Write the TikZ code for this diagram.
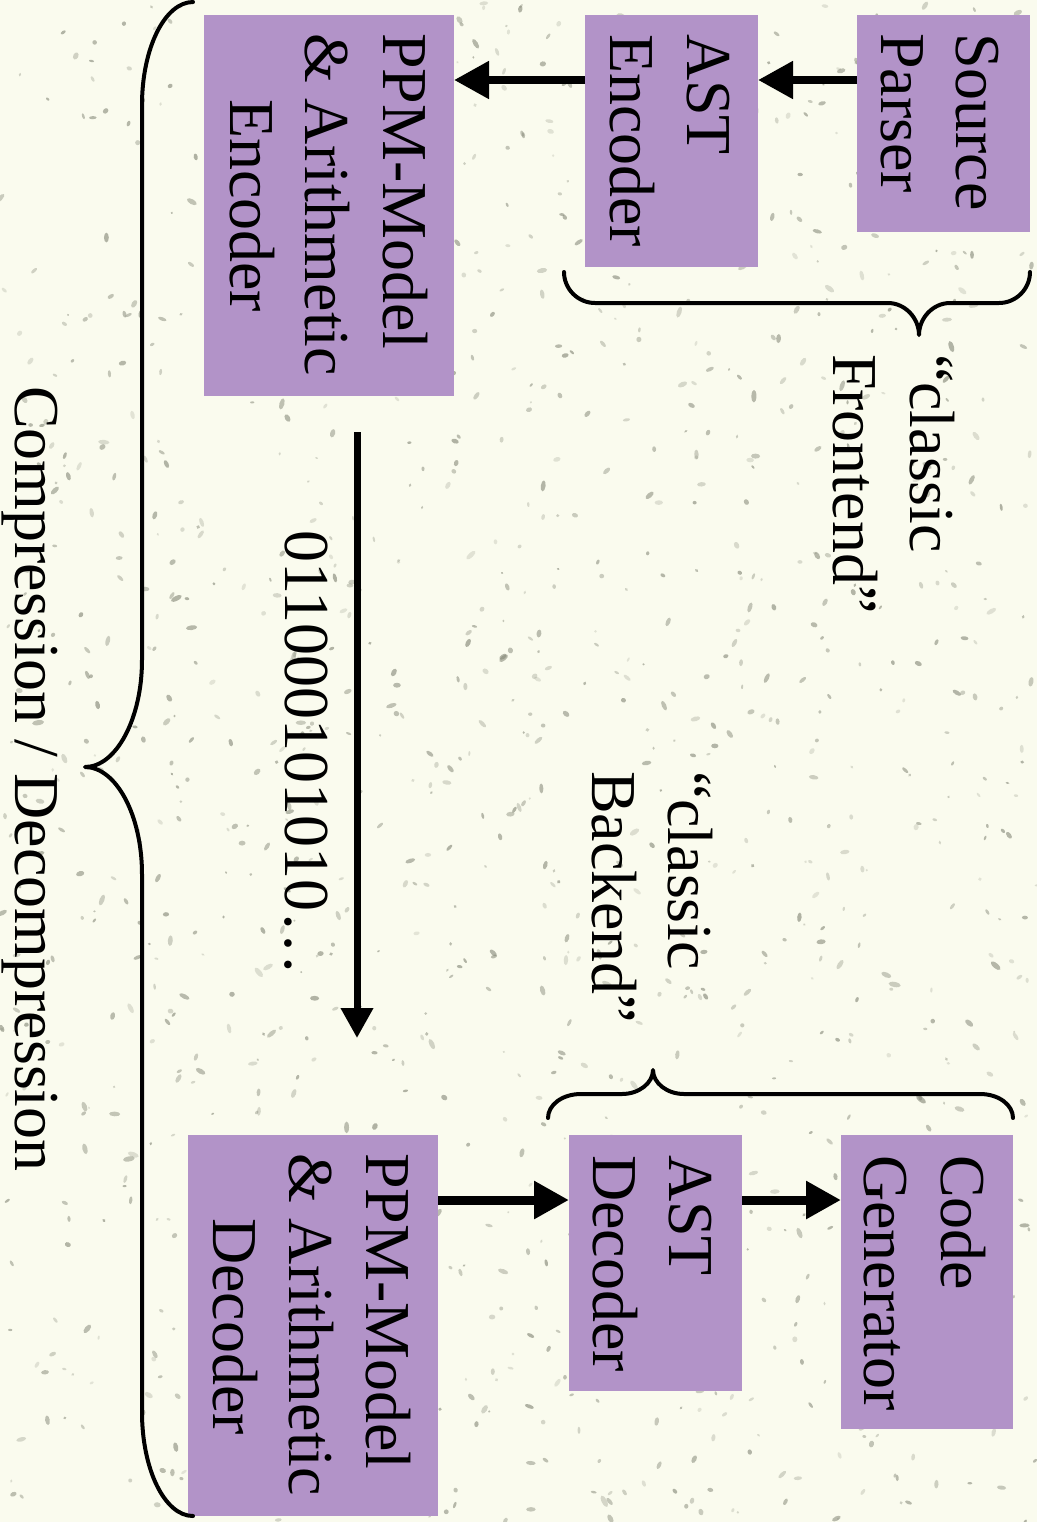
\documentclass[tikz,border=0pt]{standalone}
\usepackage{fontspec}
\setmainfont{Liberation Serif}
\usetikzlibrary{arrows.meta,fit}
\definecolor{bgc}{RGB}{250,251,238}
\definecolor{boxc}{RGB}{178,147,200}
\definecolor{speck}{RGB}{135,138,122}
\begin{document}
\begin{tikzpicture}[x=0.5pt,y=-0.5pt,
  box/.style={fill=boxc, draw=none, inner sep=0pt, outer sep=0pt},
  lbl/.style={rotate=-90, anchor=base west, inner sep=0pt, outer sep=0pt,
              font=\fontsize{32pt}{38pt}\selectfont},
  harr/.style={line width=4pt, -{Triangle[length=17.5pt,width=18pt]}},
  varr/.style={line width=3.5pt, -{Triangle[length=15pt,width=15.5pt]}},
  bracestyle/.style={line width=2pt, line cap=round, line join=round}]

% page and background
\useasboundingbox (0,0) rectangle (1037,1522);
\fill[bgc] (0,0) rectangle (1037,1522);
\pgfmathsetseed{7}
\foreach \i in {1,...,1300}{
  \pgfmathsetmacro\px{rnd*1037}
  \pgfmathsetmacro\py{rnd*1522}
  \pgfmathsetmacro\pr{1+rnd*1.6}
  \pgfmathsetmacro\pl{\pr*(1+rnd*1.5)}
  \pgfmathsetmacro\pa{rnd*180}
  \pgfmathsetmacro\po{0.2+rnd*0.45}
  \fill[speck, opacity=\po, rotate around={\pa:(\px,\py)}] (\px,\py) ellipse [x radius=\pl, y radius=\pr];
}

% boxes
\node[box, fit={(857,15) (1030,232)}] (src) {};
\node[box, fit={(585,15) (758,267)}] (astenc) {};
\node[box, fit={(204,15) (454,396)}] (ppmenc) {};
\node[box, fit={(188,1135) (438,1516)}] (ppmdec) {};
\node[box, fit={(569,1135) (742,1391)}] (astdec) {};
\node[box, fit={(841,1135) (1013,1429)}] (codegen) {};

% box texts
\node[lbl] (srcA) at (956,33) {Source};
\node[lbl] (srcB) at (881,33) {Parser};
\node[lbl] (aeA) at (687,34) {AST};
\node[lbl] (aeB) at (610,34) {Encoder};
\node[lbl] (peA) at (383,33) {PPM-Model};
\node[lbl] (peB) at (305,33) {\& Arithmetic};
\node[lbl] (peC) at (230,99) {Encoder};
\node[lbl] (pdA) at (366,1153) {PPM-Model};
\node[lbl] (pdB) at (289,1153) {\& Arithmetic};
\node[lbl] (pdC) at (213,1218) {Decoder};
\node[lbl] (adA) at (669,1155) {AST};
\node[lbl] (adB) at (593,1155) {Decoder};
\node[lbl] (cgA) at (941,1155) {Code};
\node[lbl] (cgB) at (864,1155) {Generator};

% brace labels
\node[lbl] (feA) at (910,354) {“classic};
\node[lbl] (feB) at (833,354) {Frontend”};
\node[lbl] (beA) at (668,771) {“classic};
\node[lbl] (beB) at (592,771) {Backend”};
\node[lbl] (cd) at (16,386) {Compression / Decompression};
\node[lbl] (bits) at (285,530) {011000101010…};

% arrows
\coordinate (rowtop) at (0,80);
\coordinate (rowbot) at (0,1200);
\draw[harr] (src.west |- rowtop) -- (astenc.east |- rowtop);
\draw[harr] (astenc.west |- rowtop) -- (ppmenc.east |- rowtop);
\draw[harr, line width=4.5pt] (ppmdec.east |- rowbot) -- (astdec.west |- rowbot);
\draw[harr, line width=4.5pt] (astdec.east |- rowbot) -- (codegen.west |- rowbot);
\coordinate (bitsTop) at (357,432);
\coordinate (bitsBot) at (357,1038);
\draw[varr] (bitsTop) -- (bitsBot);

% braces
\draw[bracestyle] (564,272) .. controls (564,289) and (578,303) .. (595,303)
  -- (888,303) .. controls (905,303) and (919,318) .. (919,335)
  .. controls (919,318) and (933,303) .. (950,303)
  -- (999,303) .. controls (1016,303) and (1030,289) .. (1030,272);
\draw[bracestyle] (548,1118) .. controls (548,1105) and (562,1094) .. (581,1094)
  -- (622,1094) .. controls (639,1094) and (653,1083) .. (653,1070)
  .. controls (653,1083) and (667,1094) .. (684,1094)
  -- (980,1094) .. controls (999,1094) and (1013,1105) .. (1013,1118);
\draw[bracestyle] (193,2) .. controls (165,2) and (142,48) .. (142,105)
  -- (142,660) .. controls (142,719) and (116,767) .. (85,767)
  .. controls (116,767) and (142,815) .. (142,874)
  -- (142,1412) .. controls (142,1470) and (165,1516) .. (193,1516);
\end{tikzpicture}
\end{document}
